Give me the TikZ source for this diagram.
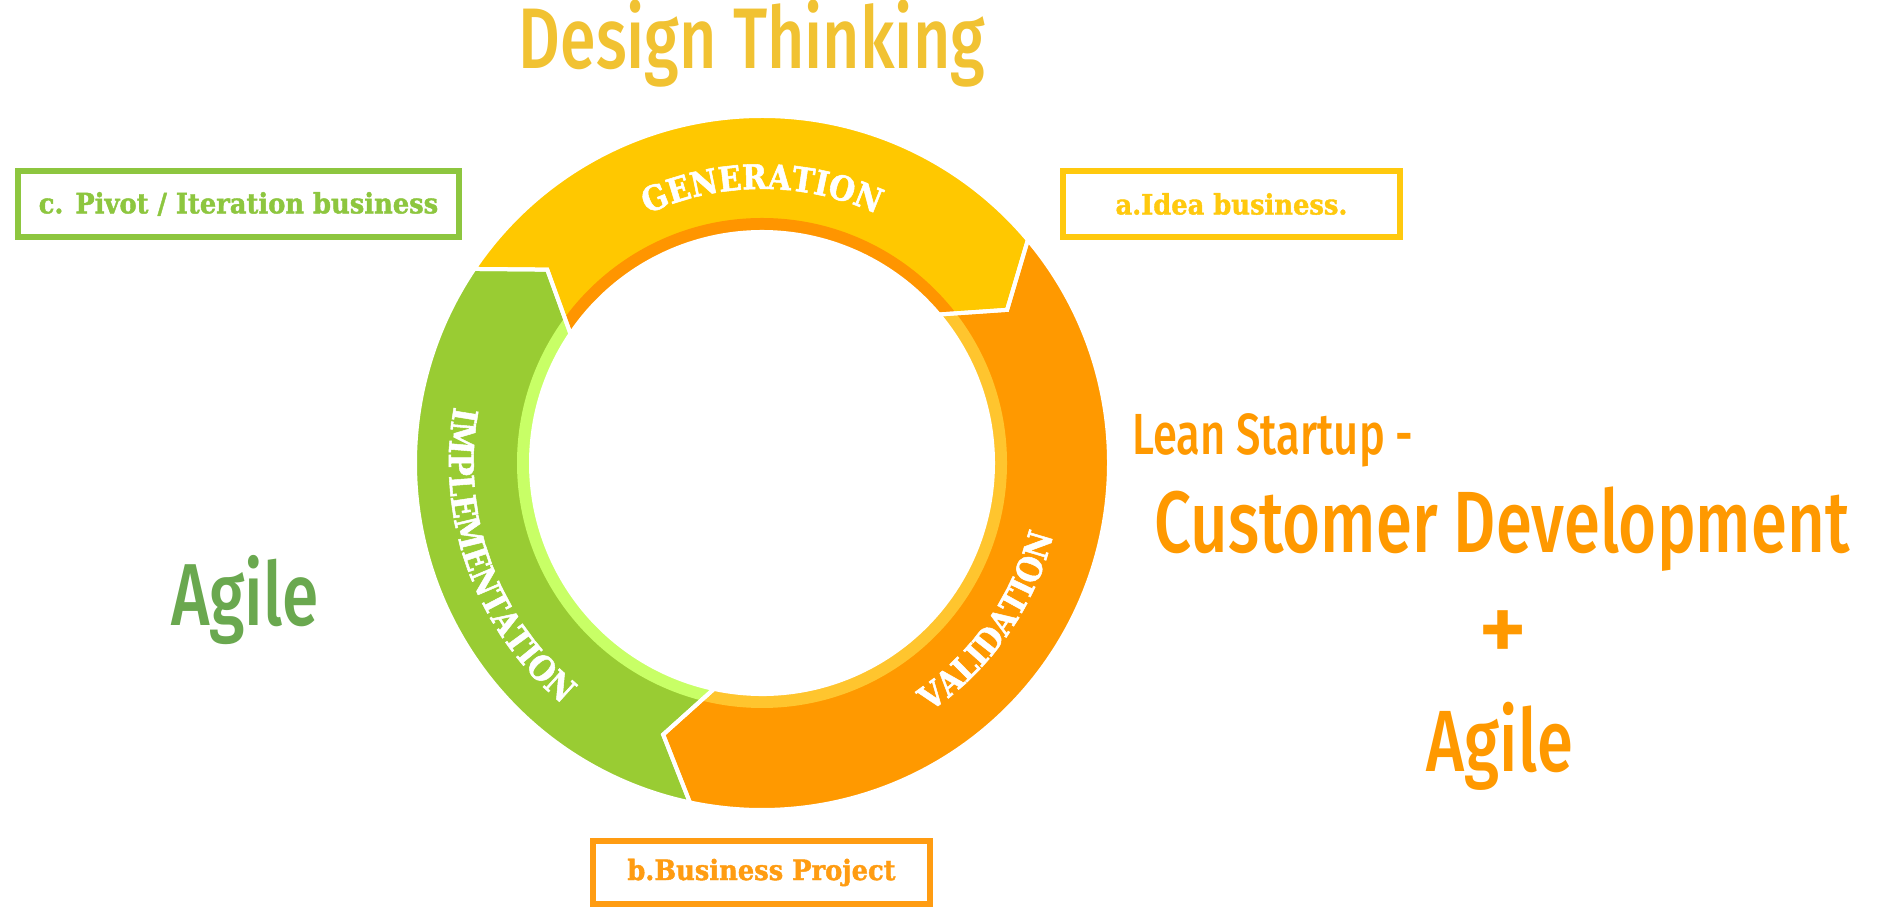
\documentclass[tikz,border=0pt]{standalone}
\usepackage{fontspec}
\usepackage{graphicx}
\usetikzlibrary{decorations.text}
\newfontfamily\slabfont{DejaVu Serif}[BoldFeatures={FakeBold=1.5}]
\newfontfamily\ringfont{DejaVu Serif}[FakeStretch=0.88, BoldFeatures={FakeBold=1.5}]
\newfontfamily\dinfont{Fira Sans Medium}
\definecolor{genyellow}{HTML}{FFC800}
\definecolor{genstripe}{HTML}{FF9500}
\definecolor{valorange}{HTML}{FF9900}
\definecolor{valstripe}{HTML}{FFC52E}
\definecolor{impgreen}{HTML}{99CC33}
\definecolor{impstripe}{HTML}{C8FF66}
\definecolor{boxgreen}{HTML}{8DC63F}
\definecolor{boxyellow}{HTML}{FFC90E}
\definecolor{boxorange}{HTML}{FF9C12}
\definecolor{titlegold}{HTML}{F1C232}
\definecolor{agilegreen}{HTML}{6AA84F}
\definecolor{leanorange}{HTML}{FF9900}
\newcommand{\slim}[1]{\scalebox{0.75}[1]{#1}}
\newcommand{\tight}[1]{\scalebox{0.92}[1]{#1}}
\newcommand{\ringtext}{\ringfont\bfseries\fontsize{34}{34}\selectfont}

\begin{document}
\begin{tikzpicture}[
  x=1pt, y=1pt,
  labelbox/.style = {draw, line width=6, minimum height=66, inner sep=0,
                     font=\slabfont\bfseries\fontsize{28}{28}\selectfont},
  headline/.style = {inner sep=0, font=\dinfont\fontsize{#1}{#1}\selectfont},
  ringlabel/.style = {decorate, decoration={text along path, text={|\ringtext|#1},
                      text align=center, text color=white}}
]
  \useasboundingbox (0,0) rectangle (1877,907);

  \begin{scope}[shift={(762,444)}]
    \foreach \a/\b/\main/\inner in {146/40/genyellow/genstripe, 40/-102/valorange/valstripe, 258/146/impgreen/impstripe}{
      \begin{scope}
        \clip (\a:347) arc[start angle=\a, end angle=\b, radius=347] -- ({\b-8}:289) -- (\b:231)
              arc[start angle=\b, end angle=\a, radius=231] -- ({\a-8}:289) -- cycle;
        \fill[\main] (0,0) circle (347);
        \fill[\inner] (0,0) circle (245);
      \end{scope}
    }
    \foreach \a/\b in {146/40, 40/-102, 258/146}{
      \draw[white, line width=4, line join=miter] (\a:347) arc[start angle=\a, end angle=\b, radius=347] -- ({\b-8}:289) -- (\b:231)
            arc[start angle=\b, end angle=\a, radius=231] -- ({\a-8}:289) -- cycle;
    }
    \fill[white] (0,0) circle (231);

    \path[ringlabel=GENERATION] (130:274) arc[start angle=130, end angle=50, radius=274];
    \path[ringlabel=IMPLEMENTATION] (160:313) arc[start angle=160, end angle=240, radius=313];
    \path[ringlabel=VALIDATION] (-75:300) arc[start angle=-75, end angle=5, radius=300];
  \end{scope}

  \node[labelbox, draw=boxgreen, text=boxgreen, minimum width=441] (pivot) at (238.5,703) {\tight{c. Pivot / Iteration business}};
  \node[labelbox, draw=boxyellow, text=boxyellow, minimum width=337] (idea) at (1231.5,703) {\tight{a.Idea business.}};
  \node[labelbox, draw=boxorange, text=boxorange, minimum width=337, minimum height=63] (project) at (761.5,34.5) {\tight{b.Business Project}};

  \node[headline=86, text=titlegold, anchor=base] (design) at (752,838) {\slim{Design Thinking}};
  \node[headline=88, text=agilegreen, anchor=base] (agileleft) at (245,281) {\slim{Agile}};
  \node[headline=58, text=leanorange, anchor=base west] (lean) at (1132,452) {\slim{Lean Startup -}};
  \node[headline=87, text=leanorange, anchor=base] (custdev) at (1502,354) {\slim{Customer Development}};
  \node[headline=95, text=leanorange] (plus) at (1503,271) {+};
  \node[headline=87, text=leanorange, anchor=base] (agileright) at (1500,135) {\slim{Agile}};
\end{tikzpicture}
\end{document}
